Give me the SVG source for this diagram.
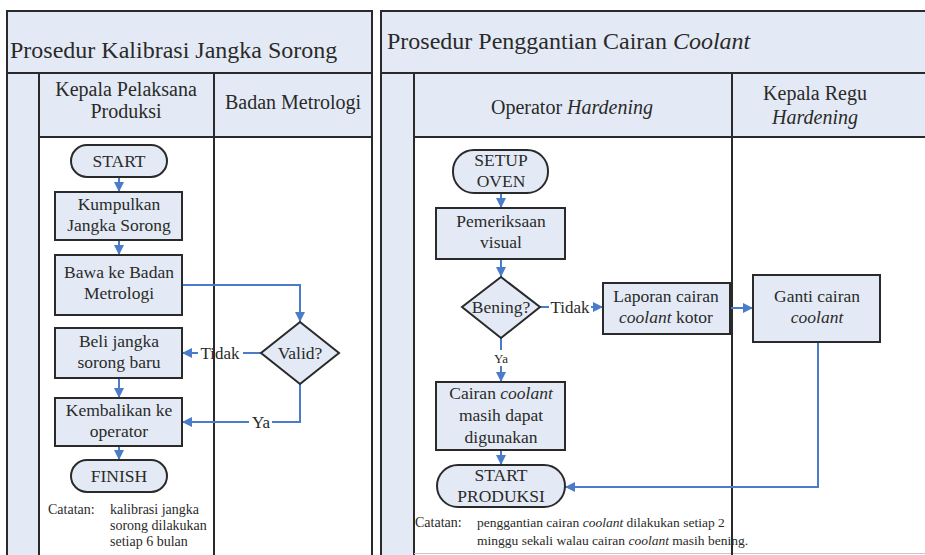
<svg xmlns="http://www.w3.org/2000/svg" width="925" height="555" viewBox="0 0 925 555" font-family="'Liberation Serif', 'DejaVu Serif', serif">
<style>
.bg{fill:#ffffff}
.hd{fill:#e4eaf5;stroke:#2a2a2a;stroke-width:2}
.ln{stroke:#2a2a2a;stroke-width:2;fill:none}
.box{fill:#e4eaf5;stroke:#2a2a2a;stroke-width:2}
.c{stroke:#4a7cc9;stroke-width:2;fill:none}
text{fill:#2a2a2a}
.ttl{font-size:24px}
.h{font-size:20px;text-anchor:middle}
.b{font-size:17.5px;text-anchor:middle}
.lbl{font-size:17px;text-anchor:middle}
.n{font-size:14px}
.ns{font-size:13.5px}
</style>
<defs>
<marker id="ah" markerUnits="userSpaceOnUse" markerWidth="10" markerHeight="10" refX="10" refY="5" orient="auto">
<path d="M0,0 L10,5 L0,10 z" fill="#4a7cc9"/>
</marker>
</defs>
<rect class="bg" x="0" y="0" width="925" height="555"/>

<g id="panel-left">
<rect class="hd" x="7" y="11" width="365" height="62"/>
<text class="ttl" x="10" y="58">Prosedur Kalibrasi Jangka Sorong</text>
<rect class="hd" x="39" y="73" width="333" height="64"/>
<rect class="hd" x="7" y="73" width="32" height="490"/>
<line class="ln" x1="214" y1="73" x2="214" y2="555"/>
<line class="ln" x1="372" y1="73" x2="372" y2="555"/>
<text class="h" x="126" y="96">Kepala Pelaksana</text>
<text class="h" x="126" y="118">Produksi</text>
<text class="h" x="293" y="109">Badan Metrologi</text>
</g>

<g id="panel-right">
<rect class="hd" x="381" y="11" width="560" height="62"/>
<text class="ttl" x="387" y="49">Prosedur Penggantian Cairan <tspan font-style="italic">Coolant</tspan></text>
<rect class="hd" x="414" y="73" width="527" height="64"/>
<rect class="hd" x="381" y="73" width="33" height="490"/>
<line class="ln" x1="732" y1="73" x2="732" y2="555"/>
<line x1="414" y1="553.5" x2="925" y2="553.5" stroke="#c8c8c8" stroke-width="1"/>
<text class="h" x="572" y="114">Operator <tspan font-style="italic">Hardening</tspan></text>
<text class="h" x="815" y="100">Kepala Regu</text>
<text class="h" x="815" y="124" font-style="italic">Hardening</text>
</g>

<g id="connectors">
<line class="c" x1="119" y1="177" x2="119" y2="192" marker-end="url(#ah)"/>
<line class="c" x1="119" y1="240" x2="119" y2="255" marker-end="url(#ah)"/>
<polyline class="c" points="182,285 300,285 300,322" marker-end="url(#ah)"/>
<line class="c" x1="261" y1="353" x2="243" y2="353"/>
<line class="c" x1="198" y1="353" x2="182" y2="353" marker-end="url(#ah)"/>
<line class="c" x1="119" y1="378" x2="119" y2="398" marker-end="url(#ah)"/>
<polyline class="c" points="300,384 300,422 272,422"/>
<line class="c" x1="249" y1="422" x2="182" y2="422" marker-end="url(#ah)"/>
<line class="c" x1="119" y1="446" x2="119" y2="460" marker-end="url(#ah)"/>

<line class="c" x1="501" y1="193" x2="501" y2="208" marker-end="url(#ah)"/>
<line class="c" x1="501" y1="259" x2="501" y2="277" marker-end="url(#ah)"/>
<line class="c" x1="540" y1="307" x2="549" y2="307"/>
<line class="c" x1="591" y1="307" x2="603" y2="307" marker-end="url(#ah)"/>
<line class="c" x1="730" y1="308" x2="753" y2="308" marker-end="url(#ah)"/>
<line class="c" x1="501" y1="338" x2="501" y2="350"/>
<line class="c" x1="501" y1="366" x2="501" y2="382" marker-end="url(#ah)"/>
<line class="c" x1="501" y1="450" x2="501" y2="465" marker-end="url(#ah)"/>
<polyline class="c" points="818,342 818,487 565,487" marker-end="url(#ah)"/>
</g>

<g id="labels">
<text class="lbl" x="220" y="359">Tidak</text>
<text class="lbl" x="261" y="428">Ya</text>
<text class="lbl" x="570" y="313">Tidak</text>
<text x="501" y="363" style="font-size:13px;text-anchor:middle">Ya</text>
</g>

<g id="start">
<rect class="box" x="71" y="145" width="96" height="32" rx="16"/>
<text class="b" x="119" y="167">START</text>
</g>
<g id="kumpulkan">
<rect class="box" x="55" y="192" width="127" height="48"/>
<text class="b" x="119" y="210">Kumpulkan</text>
<text class="b" x="119" y="231">Jangka Sorong</text>
</g>
<g id="bawa">
<rect class="box" x="55" y="255" width="127" height="60"/>
<text class="b" x="119" y="278">Bawa ke Badan</text>
<text class="b" x="119" y="299">Metrologi</text>
</g>
<g id="valid">
<polygon class="box" points="300,322 339,353 300,384 261,353"/>
<text class="b" x="300" y="359">Valid?</text>
</g>
<g id="beli">
<rect class="box" x="55" y="328" width="127" height="50"/>
<text class="b" x="119" y="347">Beli jangka</text>
<text class="b" x="119" y="368">sorong baru</text>
</g>
<g id="kembalikan">
<rect class="box" x="55" y="398" width="127" height="48"/>
<text class="b" x="119" y="416">Kembalikan ke</text>
<text class="b" x="119" y="437">operator</text>
</g>
<g id="finish">
<rect class="box" x="71" y="460" width="96" height="32" rx="16"/>
<text class="b" x="119" y="482">FINISH</text>
</g>
<g id="note-left">
<text class="n" x="48" y="514">Catatan:</text>
<text class="n" x="110" y="514">kalibrasi jangka</text>
<text class="n" x="110" y="530">sorong dilakukan</text>
<text class="n" x="110" y="546">setiap 6 bulan</text>
</g>

<g id="setup-oven">
<rect class="box" x="453" y="150" width="95" height="43" rx="21"/>
<text class="b" x="501" y="166">SETUP</text>
<text class="b" x="501" y="187">OVEN</text>
</g>
<g id="pemeriksaan">
<rect class="box" x="436" y="208" width="129" height="51"/>
<text class="b" x="501" y="227">Pemeriksaan</text>
<text class="b" x="501" y="248">visual</text>
</g>
<g id="bening">
<polygon class="box" points="501,277 540,307 501,338 462,307"/>
<text class="b" x="501" y="313">Bening?</text>
</g>
<g id="laporan">
<rect class="box" x="603" y="283" width="127" height="51"/>
<text class="b" x="666" y="302">Laporan cairan</text>
<text class="b" x="666" y="323"><tspan font-style="italic">coolant</tspan> kotor</text>
</g>
<g id="ganti">
<rect class="box" x="753" y="275" width="127" height="67"/>
<text class="b" x="817" y="302">Ganti cairan</text>
<text class="b" x="817" y="323" font-style="italic">coolant</text>
</g>
<g id="cairan">
<rect class="box" x="436" y="382" width="129" height="68"/>
<text class="b" x="501" y="399">Cairan <tspan font-style="italic">coolant</tspan></text>
<text class="b" x="501" y="421">masih dapat</text>
<text class="b" x="501" y="443">digunakan</text>
</g>
<g id="start-produksi">
<rect class="box" x="437" y="465" width="128" height="42" rx="21"/>
<text class="b" x="501" y="481">START</text>
<text class="b" x="501" y="502">PRODUKSI</text>
</g>
<g id="note-right">
<text class="n" x="415" y="527">Catatan:</text>
<text class="ns" x="477" y="527">penggantian cairan <tspan font-style="italic">coolant</tspan> dilakukan setiap 2</text>
<text class="ns" x="477" y="545">minggu sekali walau cairan <tspan font-style="italic">coolant</tspan> masih bening.</text>
</g>
<line class="ln" x1="732" y1="500" x2="732" y2="555"/>
</svg>
